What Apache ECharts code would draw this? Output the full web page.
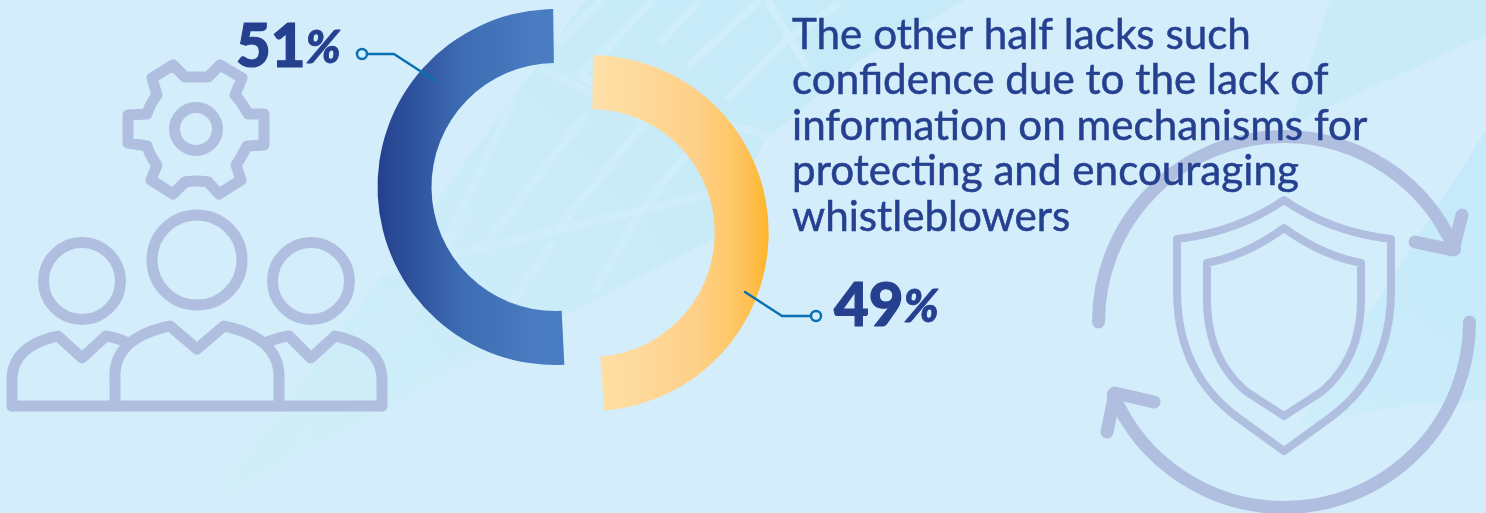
<!DOCTYPE html>
<html>
<head>
<meta charset="utf-8">
<style>html,body{margin:0;padding:0;background:#d4edfb}#chart{width:1486px;height:513px}</style>
<script src="https://cdn.jsdelivr.net/npm/echarts@6/dist/echarts.min.js"></script>
</head>
<body>
<div id="chart"></div>
<script>
// Share of respondents, by slice
const sliceNames = ['Confident', 'Lacks confidence'];
const sliceValues = [51, 49];
const caption = [
  'The other half lacks such',
  'confidence due to the lack of',
  'information on mechanisms for',
  'protecting and encouraging',
  'whistleblowers'
];

const INK = '#25408f';
const ICON = '#b0bfe0';
const LEADER = '#0a6fb4';
const BEAM = '#d1edfa';

// Quadratic curve flattened to points, so outlines can mix corners and arcs
function quad(p0, c, p1) {
  const pts = [];
  for (let i = 0; i <= 16; i++) {
    const t = i / 16, u = 1 - t;
    pts.push([u * u * p0[0] + 2 * u * t * c[0] + t * t * p1[0],
              u * u * p0[1] + 2 * u * t * c[1] + t * t * p1[1]]);
  }
  return pts;
}
function poly(points, width, color) {
  return { type: 'polyline', silent: true, shape: { points },
    style: { stroke: color || ICON, lineWidth: width, fill: null, lineJoin: 'round', lineCap: 'round' } };
}
function ring(cx, cy, r, width, color, fill) {
  return { type: 'circle', silent: true, shape: { cx, cy, r },
    style: { stroke: color || ICON, lineWidth: width, fill: fill || 'transparent' } };
}
function area(points, fill) {
  return { type: 'polygon', silent: true, shape: { points }, style: { fill } };
}
const fade = (x, y, x2, y2, from, to) => ({ type: 'linear', x, y, x2, y2,
  colorStops: [{ offset: 0, color: from }, { offset: 1, color: to }] });

// Faint glass-roof backdrop
const backdrop = [
  area([[222,492],[717,237],[765,140],[860,60],[965,0],[585,0]], fade(0.8, 0.1, 0.1, 1, '#c6eaf8', '#cfeef8')),
  area([[1330,0],[1486,0],[1486,35],[1290,125]], '#c9ebf8'),
  area([[1486,130],[1297,427],[1397,407],[1486,400]], fade(0.9, 0.3, 0.1, 1, '#c5eafa', '#cdedfa'))
];
[
  [[288,457],[400,300],[470,215]], [[306,445],[420,300]],
  [[447,240],[513,100]], [[487,243],[553,157],[587,113]],
  [[557,230],[647,120]], [[593,293],[640,213],[687,153]],
  [[513,300],[553,243]], [[370,275],[713,193]],
  [[540,68],[647,120]], [[580,77],[770,137]],
  [[557,43],[602,0]], [[580,77],[653,0]], [[660,43],[700,0]],
  [[687,67],[760,0]], [[727,100],[787,40],[840,3]], [[767,0],[807,67]],
  [[393,402],[520,330]]
].forEach(b => backdrop.push({ type: 'polyline', silent: true, shape: { points: b },
  style: { stroke: BEAM, lineWidth: 8, fill: null, opacity: 0.8 } }));

// People with a cog above them
const gearOutline = [].concat(
  [[185,77],[208,77]], [[220,65],[242,78],[235,95]],
  quad([235,95],[243,104],[248,114]),
  [[264,114],[264,145],[247,146]],
  quad([247,146],[242,156],[236,165]),
  [[241,180],[219,194],[208,182]],
  quad([208,182],[196,180],[185,182]),
  [[173,194],[151,180],[157,165]],
  quad([157,165],[150,156],[147,146]),
  [[128,143],[128,115],[147,114]],
  quad([147,114],[150,104],[157,95]),
  [[152,78],[173,65],[185,77]]
);
const people = [
  poly(gearOutline, 11),
  ring(196, 129, 21.5, 11),
  ring(197, 260, 45, 11),
  ring(82, 281, 38.5, 11),
  ring(311, 281, 38.5, 11),
  poly([[12,406],[382,406]], 11),
  poly([[12,406],[12,380]].concat(quad([12,380],[12,346],[58,336]), [[82,358],[106,336]], quad([106,336],[118,338],[128,343])), 11),
  poly([[115,406],[115,380]].concat(quad([115,380],[112,338],[170,326]), [[197,349],[224,326]], quad([224,326],[281,338],[279,380]), [[279,406]]), 11),
  poly([[265,343]].concat(quad([265,343],[276,338],[289,336]), [[311,358],[335,336]], quad([335,336],[382,346],[382,380]), [[382,406]]), 11)
];

// Shield inside two circling arrows
const mirror = pts => pts.map(p => [2568 - p[0], p[1]]).reverse();
const shieldOuterHalf = [].concat(quad([1284,200],[1237,232],[1177,239]), quad([1177,293],[1178,373],[1237,417]), [[1284,451]]);
const shieldInnerHalf = [].concat(quad([1284,228],[1247,255],[1207,263]), quad([1207,302],[1208,360],[1247,392]), [[1284,416]]);
const arcStroke = { stroke: ICON, lineWidth: 13, fill: 'transparent', lineCap: 'round' };
const shield = [
  poly(mirror(shieldOuterHalf).concat(shieldOuterHalf), 8),
  poly(mirror(shieldInnerHalf).concat(shieldInnerHalf), 8),
  { type: 'arc', silent: true, shape: { cx: 1284, cy: 322, r: 185.5, startAngle: Math.PI, endAngle: 5.88, clockwise: true }, style: arcStroke },
  { type: 'arc', silent: true, shape: { cx: 1284, cy: 322, r: 185.5, startAngle: 0, endAngle: 2.74, clockwise: true }, style: arcStroke },
  poly([[1462,215],[1453,250],[1415,242]], 13),
  poly([[1107,432],[1115,393],[1154,402]], 13)
];

// Leader lines tying each figure to its slice
const leaders = [
  poly([[367,54],[394,54],[434,80]], 2.5, LEADER),
  ring(362, 54, 5, 2.5, LEADER),
  poly([[745,292],[782,316],[811,316]], 2.5, LEADER),
  ring(816, 316, 5, 2.5, LEADER)
];

const figure = (value, x, y) => ({
  type: 'text', silent: true, x, y,
  style: {
    text: '{n|' + value + '}{p|%}',
    rich: {
      n: { font: '900 60px Lato', fill: INK, stroke: INK, lineWidth: 1.2 },
      p: { font: 'italic 900 46px Lato', fill: INK, stroke: INK, lineWidth: 0.8 }
    }
  }
});
const figures = [figure(sliceValues[0], 236, 18), figure(sliceValues[1], 834, 277)];

const captionText = caption.map((line, i) => ({
  type: 'text', silent: true, x: 792, y: 14 + i * 45.5,
  style: { text: line, font: '42.2px Lato', fill: INK, stroke: INK, lineWidth: 0.5 }
}));

const slice = (center, shown, stops) => ({
  type: 'pie', silent: true, animation: false,
  center, radius: [124, 178], startAngle: 90, padAngle: 1.5,
  label: { show: false }, labelLine: { show: false },
  data: sliceValues.map((value, i) => ({
    name: sliceNames[i], value,
    itemStyle: i === shown
      ? { color: { type: 'linear', x: 0, y: 0, x2: 1, y2: 0, colorStops: stops } }
      : { color: 'transparent' }
  })).reverse()
});

const chart = echarts.init(document.getElementById('chart'), null, { renderer: 'canvas' });
chart.setOption({
  backgroundColor: '#d4edfb',
  animation: false,
  graphic: { elements: [].concat(
    backdrop.map(e => ({ ...e, z: -10 })),
    people.map(e => ({ ...e, z: 5 })),
    shield.map(e => ({ ...e, z: 5 })),
    captionText.map(e => ({ ...e, z: 6 })),
    figures.map(e => ({ ...e, z: 6 })),
    // Leaders sit on top of the ring
    leaders.map(e => ({ ...e, z: 20 }))
  ) },
  series: [
    slice([555.5, 187], 0, [
      { offset: 0, color: '#24408e' }, { offset: 0.45, color: '#3d6cb2' }, { offset: 0.85, color: '#4a7cc2' }, { offset: 1, color: '#4a7cc2' }
    ]),
    slice([590.7, 233], 1, [
      { offset: 0, color: '#fee0a9' }, { offset: 0.6, color: '#fed088' }, { offset: 0.85, color: '#fec35c' }, { offset: 1, color: '#fdb52b' }
    ])
  ]
});
</script>
</body>
</html>
